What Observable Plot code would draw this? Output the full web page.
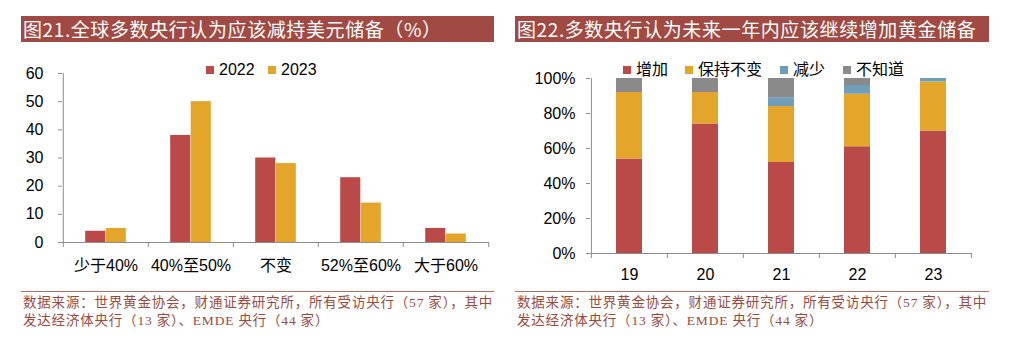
<!DOCTYPE html>
<html><head><meta charset="utf-8">
<script src="https://cdn.jsdelivr.net/npm/d3@7"></script>
<script src="https://cdn.jsdelivr.net/npm/@observablehq/plot@0.6"></script>
<style>
body{margin:0;background:#fff;width:1024px;height:343px;position:relative;overflow:hidden;font-family:"Liberation Sans","Noto Sans CJK SC",sans-serif;}
.title{position:absolute;top:16px;height:26px;background:#A04A43;color:#fff;font-family:"Noto Sans CJK SC",sans-serif;font-size:19px;line-height:26px;padding-left:2px;letter-spacing:0.6px;white-space:nowrap;box-sizing:border-box;overflow:hidden;}
.foot{position:absolute;top:291px;border-top:1px solid #B0706A;color:#9B4A40;font-family:"Liberation Serif","Noto Sans CJK SC",serif;font-size:13.5px;line-height:18px;letter-spacing:0.8px;padding-top:2px;padding-left:2px;box-sizing:border-box;white-space:nowrap;}
.legend{position:absolute;font-size:16px;line-height:18px;white-space:nowrap;color:#000;}
.legend span.item{position:absolute;top:0;}
.sw{display:inline-block;width:8px;height:8px;margin-right:5px;vertical-align:middle;position:relative;top:-1px;}
.chart{position:absolute;top:50px;}
.cjk{font-family:"Noto Sans CJK SC",sans-serif;}
</style></head>
<body>
<div class="title" style="left:21px;width:473px;">图21.全球多数央行认为应该减持美元储备（%）</div>
<div class="title" style="left:515px;width:474px;">图22.多数央行认为未来一年内应该继续增加黄金储备</div>
<div id="legL" class="legend" style="left:0;top:61px;"></div>
<div id="legR" class="legend cjk" style="left:0;top:59px;"></div>
<div id="chartL" class="chart" style="left:0;"></div>
<div id="chartR" class="chart" style="left:512px;"></div>
<div class="foot" style="left:21px;width:473px;">数据来源：世界黄金协会，财通证券研究所，所有受访央行（57 家），其中<br>发达经济体央行（13 家）、EMDE 央行（44 家）</div>
<div class="foot" style="left:515px;width:474px;">数据来源：世界黄金协会，财通证券研究所，所有受访央行（57 家），其中<br>发达经济体央行（13 家）、EMDE 央行（44 家）</div>
<script>
// ---- Left chart data ----
const categoriesL = ["少于40%", "40%至50%", "不变", "52%至60%", "大于60%"];
const seriesL = ["2022", "2023"];
const values2022 = [4, 38, 30, 23, 5];
const values2023 = [5, 50, 28, 14, 3];
const yTicksL = [0, 10, 20, 30, 40, 50, 60];

// ---- Right chart data ----
const years = ["19", "20", "21", "22", "23"];
const seriesR = ["增加", "保持不变", "减少", "不知道"];
const increase = [54, 74, 52, 61, 70];
const keep = [38, 18, 32, 30, 28];
const decrease = [0, 0, 5, 5, 2];
const unknown = [8, 8, 11, 4, 0];
const yTicksR = [0, 20, 40, 60, 80, 100];

const colorsL = ["#B94A48", "#E3A52A"];
const colorsR = ["#B94A48", "#E3A52A", "#6F9FB8", "#8A8A8A"];
const axisColor = "#8C8C8C";

// ---- Left chart ----
const WL = 500, HL = 240, mlL = 62, mrL = 11, mtL = 23, mbL = 48;
const stepL = (WL - mlL - mrL) / categoriesL.length;
const barW = 20.5;
const dataL = categoriesL.map((c, i) => ({c, v22: values2022[i], v23: values2023[i]}));

const plotL = Plot.plot({
  width: WL, height: HL,
  marginLeft: mlL, marginRight: mrL, marginTop: mtL, marginBottom: mbL,
  style: {fontFamily: "Liberation Sans, Noto Sans CJK SC, sans-serif", fontSize: "16px", color: "#000", background: "transparent"},
  x: {domain: categoriesL, paddingInner: 0, paddingOuter: 0, axis: null},
  y: {domain: [0, 60], axis: null},
  marks: [
    Plot.barY(dataL, {x: "c", y: "v22", fill: colorsL[0], insetLeft: stepL / 2 - barW, insetRight: stepL / 2}),
    Plot.barY(dataL, {x: "c", y: "v23", fill: colorsL[1], insetLeft: stepL / 2, insetRight: stepL / 2 - barW}),
    Plot.ruleY([0], {stroke: axisColor}),
    Plot.ruleX([categoriesL[0]], {x: d => d, dx: -stepL / 2, stroke: axisColor}),
    Plot.ruleX(categoriesL, {x: d => d, dx: -stepL / 2, y1: () => 0, y2: () => 0, insetBottom: -5, stroke: axisColor}),
    Plot.ruleX([categoriesL[categoriesL.length - 1]], {x: d => d, dx: stepL / 2, y1: () => 0, y2: () => 0, insetBottom: -5, stroke: axisColor}),
    Plot.axisY({ticks: yTicksL, tickSize: 4, tickPadding: 15, stroke: axisColor, fill: "#000", fontSize: 16, label: null}),
    Plot.axisX({tickSize: 0, tickPadding: 17, fill: "#000", fontSize: 16, label: null})
  ]
});
document.getElementById("chartL").appendChild(plotL);

// ---- Right chart ----
const WR = 500, HR = 240, mlR = 78, mrR = 41, mtR = 28, mbR = 37;
const stepR = (WR - mlR - mrR) / years.length;
const seriesValues = [increase, keep, decrease, unknown];
const dataR = [];
years.forEach((y, i) => seriesR.forEach((s, k) => dataR.push({year: y, series: s, value: seriesValues[k][i]})));

const plotR = Plot.plot({
  width: WR, height: HR,
  marginLeft: mlR, marginRight: mrR, marginTop: mtR, marginBottom: mbR,
  style: {fontFamily: "Liberation Sans, Noto Sans CJK SC, sans-serif", fontSize: "16px", color: "#000", background: "transparent"},
  x: {domain: years, paddingInner: 0.66, paddingOuter: 0.33, axis: null},
  y: {domain: [0, 100], axis: null},
  color: {domain: seriesR, range: colorsR},
  marks: [
    Plot.barY(dataR, {x: "year", y: "value", fill: "series", order: seriesR}),
    Plot.ruleY([0], {stroke: axisColor}),
    Plot.ruleX([years[0]], {x: d => d, dx: -stepR / 2, stroke: axisColor}),
    Plot.ruleX(years, {x: d => d, dx: -stepR / 2, y1: () => 0, y2: () => 0, insetBottom: -5, stroke: axisColor}),
    Plot.ruleX([years[years.length - 1]], {x: d => d, dx: stepR / 2, y1: () => 0, y2: () => 0, insetBottom: -5, stroke: axisColor}),
    Plot.axisY({ticks: yTicksR, tickFormat: d => d + "%", tickSize: 4, tickPadding: 11, stroke: axisColor, fill: "#000", fontSize: 16, label: null}),
    Plot.axisX({tickSize: 0, tickPadding: 15, fill: "#000", fontSize: 16, label: null})
  ]
});
document.getElementById("chartR").appendChild(plotR);

// ---- Legends ----
function legend(el, names, colors, xs) {
  names.forEach((n, i) => {
    const s = document.createElement("span");
    s.className = "item";
    s.style.left = xs[i] + "px";
    s.innerHTML = `<span class="sw" style="background:${colors[i]}"></span>${n}`;
    el.appendChild(s);
  });
}
legend(document.getElementById("legL"), seriesL, colorsL, [206, 268]);
legend(document.getElementById("legR"), seriesR, colorsR, [623, 685, 780, 843]);
</script>
</body></html>
